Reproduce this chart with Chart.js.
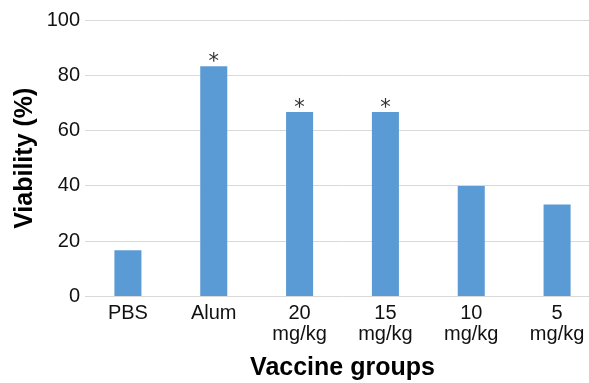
<!DOCTYPE html>
<html>
<head>
<meta charset="utf-8">
<script src="https://cdn.jsdelivr.net/npm/chart.js@4/dist/chart.umd.min.js"></script>
<style>
  html, body { margin: 0; padding: 0; background: #fff; overflow: hidden; }
  #wrap { width: 589px; height: 383px; overflow: hidden; }
  canvas { display: block; }
</style>
</head>
<body>
<div id="wrap"><canvas id="c" width="600" height="383"></canvas></div>
<script>
// Vaccine groups and their viability (%)
const groups = ['PBS', 'Alum', ['20', 'mg/kg'], ['15', 'mg/kg'], ['10', 'mg/kg'], ['5', 'mg/kg']];
const viability = [16.7, 83.3, 66.7, 66.7, 40, 33.3];
// Significance markers shown above each bar
const significance = ['', '*', '*', '*', '', ''];
const yTicks = [0, 20, 40, 60, 80, 100];

const FONT = '"Liberation Sans", Arial, Helvetica, sans-serif';

// Draws the significance asterisks just above the bars
const starPlugin = {
  id: 'stars',
  afterDatasetsDraw(chart) {
    const ctx = chart.ctx;
    const meta = chart.getDatasetMeta(0);
    ctx.save();
    ctx.font = '21px "DejaVu Sans", sans-serif';
    ctx.fillStyle = '#333';
    ctx.textAlign = 'center';
    ctx.textBaseline = 'alphabetic';
    meta.data.forEach((bar, i) => {
      const mark = significance[i];
      if (!mark) return;
      const m = ctx.measureText(mark);
      const asc = m.actualBoundingBoxAscent, desc = m.actualBoundingBoxDescent;
      const centerY = bar.y - 9.5;
      const baseY = centerY + (asc - desc) / 2;
      ctx.fillText(mark, bar.x, baseY);
    });
    ctx.restore();
  }
};

new Chart(document.getElementById('c'), {
  type: 'bar',
  data: {
    labels: groups,
    datasets: [{
      data: viability,
      backgroundColor: '#5B9BD5',
      borderWidth: 0,
      barPercentage: 0.315,
      categoryPercentage: 1.0
    }]
  },
  options: {
    responsive: false,
    animation: false,
    devicePixelRatio: 1,
    layout: { padding: { top: 20, right: 0, bottom: 0, left: 0 } },
    plugins: { legend: { display: false }, tooltip: { enabled: false } },
    scales: {
      x: {
        offset: true,
        grid: { display: false, drawTicks: false },
        border: { display: false },
        ticks: {
          color: '#111',
          font: { family: FONT, size: 20, lineHeight: 1.05 },
          padding: 6,
          maxRotation: 0,
          autoSkip: false
        },
        title: {
          display: true,
          text: 'Vaccine groups',
          color: '#000',
          font: { family: FONT, size: 25, weight: 'bold', lineHeight: 1.2 },
          padding: { top: 0, bottom: 0 }
        },
        afterFit(scale) { scale.height = 86.5; }
      },
      y: {
        min: 0,
        max: 100,
        afterBuildTicks(scale) { scale.ticks = yTicks.map(v => ({ value: v })); },
        grid: { color: '#d9d9d9', lineWidth: 1, drawTicks: false },
        border: { display: false },
        ticks: {
          color: '#111',
          font: { family: FONT, size: 20 },
          padding: 5
        },
        title: {
          display: true,
          text: 'Viability (%)',
          color: '#000',
          font: { family: FONT, size: 25, weight: 'bold', lineHeight: 1.2 },
          padding: { top: 10, bottom: 0 }
        },
        afterFit(scale) { scale.width = 85; }
      }
    }
  },
  plugins: [starPlugin]
});
</script>
</body>
</html>
